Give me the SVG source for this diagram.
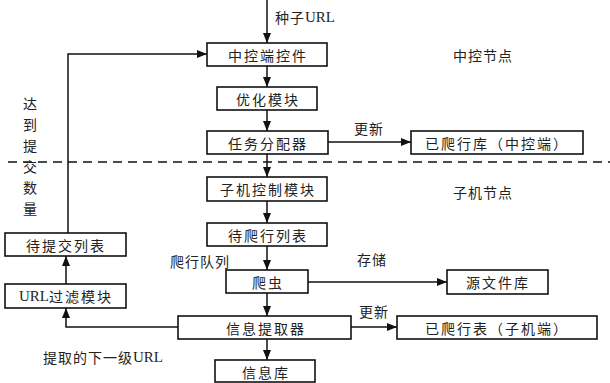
<svg xmlns="http://www.w3.org/2000/svg" width="610" height="383" viewBox="0 0 610 383" lang="zh-CN">
<style>
.box{fill:#fff;stroke:#111;stroke-width:1.6}
.t{font-family:"Noto Sans CJK SC","Liberation Serif",sans-serif;font-size:14px;fill:#222;text-anchor:middle;dominant-baseline:central;letter-spacing:2px}
.l{font-family:"Noto Sans CJK SC","Liberation Serif",sans-serif;font-size:14px;fill:#222;dominant-baseline:central;letter-spacing:1px}
.s{font-family:"Liberation Serif",serif;font-size:15px;letter-spacing:0}
.c{fill:none;stroke:#111;stroke-width:1.5}
</style>
<defs>
<marker id="ah" viewBox="0 0 10 8" refX="10" refY="4" markerWidth="10" markerHeight="8" markerUnits="userSpaceOnUse" orient="auto">
<path d="M0,0 L10,4 L0,8 Z" fill="#111"/>
</marker>
</defs>
<rect width="610" height="383" fill="#fff"/>
<line x1="8" y1="162" x2="610" y2="162" stroke="#111" stroke-width="1.5" stroke-dasharray="9,6"/>
<g id="connectors">
<line class="c" x1="267" y1="0" x2="267" y2="43" marker-end="url(#ah)"/>
<line class="c" x1="267" y1="66" x2="267" y2="87" marker-end="url(#ah)"/>
<line class="c" x1="267" y1="110" x2="267" y2="131" marker-end="url(#ah)"/>
<line class="c" x1="267" y1="154" x2="267" y2="177" marker-end="url(#ah)"/>
<line class="c" x1="267" y1="201" x2="267" y2="223" marker-end="url(#ah)"/>
<line class="c" x1="267" y1="246" x2="267" y2="270" marker-end="url(#ah)"/>
<line class="c" x1="267" y1="293" x2="267" y2="316" marker-end="url(#ah)"/>
<line class="c" x1="267" y1="339" x2="267" y2="360" marker-end="url(#ah)"/>
<line class="c" x1="328" y1="142" x2="411" y2="142" marker-end="url(#ah)"/>
<line class="c" x1="308" y1="282" x2="447" y2="282" marker-end="url(#ah)"/>
<line class="c" x1="351" y1="327" x2="397" y2="327" marker-end="url(#ah)"/>
<polyline class="c" points="178,327 66,327 66,308" marker-end="url(#ah)"/>
<line class="c" x1="66" y1="284" x2="66" y2="256" marker-end="url(#ah)"/>
<polyline class="c" points="68,233 68,54 207,54" marker-end="url(#ah)"/>
</g>
<g id="n1"><rect class="box" x="207" y="43" width="120" height="23"/><text class="t" x="268" y="55">中控端控件</text></g>
<g id="n2"><rect class="box" x="217" y="87" width="100" height="23"/><text class="t" x="268" y="99">优化模块</text></g>
<g id="n3"><rect class="box" x="207" y="131" width="121" height="23"/><text class="t" x="268" y="143">任务分配器</text></g>
<g id="n4"><rect class="box" x="411" y="131" width="172" height="23"/><text class="t" x="497" y="143">已爬行库（中控端）</text></g>
<g id="n5"><rect class="box" x="207" y="177" width="120" height="24"/><text class="t" x="268" y="189">子机控制模块</text></g>
<g id="n6"><rect class="box" x="207" y="223" width="120" height="23"/><text class="t" x="268" y="235">待爬行列表</text></g>
<g id="n7"><rect class="box" x="226" y="270" width="82" height="23"/><text class="t" x="268" y="282">爬虫</text></g>
<g id="n8"><rect class="box" x="447" y="270" width="101" height="24"/><text class="t" x="498" y="282">源文件库</text></g>
<g id="n9"><rect class="box" x="178" y="316" width="173" height="23"/><text class="t" x="266" y="328">信息提取器</text></g>
<g id="n10"><rect class="box" x="397" y="316" width="200" height="23"/><text class="t" x="497" y="328">已爬行表（子机端）</text></g>
<g id="n11"><rect class="box" x="215" y="360" width="100" height="22"/><text class="t" x="266" y="372">信息库</text></g>
<g id="n12"><rect class="box" x="5" y="284" width="121" height="24"/><text class="t" x="66" y="296"><tspan class="s">URL</tspan>过滤模块</text></g>
<g id="n13"><rect class="box" x="5" y="233" width="121" height="23"/><text class="t" x="66" y="245">待提交列表</text></g>
<g id="labels">
<text class="l" x="275" y="17">种子<tspan class="s">URL</tspan></text>
<text class="l" x="453" y="55">中控节点</text>
<text class="l" x="453" y="192">子机节点</text>
<text class="l" x="354" y="128">更新</text>
<text class="l" x="357" y="259">存储</text>
<text class="l" x="359" y="311">更新</text>
<text class="l" x="170" y="261">爬行队列</text>
<text class="l" x="43" y="357">提取的下一级<tspan class="s">URL</tspan></text>
<text class="t" x="31" y="103">达</text>
<text class="t" x="31" y="124">到</text>
<text class="t" x="31" y="145">提</text>
<text class="t" x="31" y="166">交</text>
<text class="t" x="31" y="187">数</text>
<text class="t" x="31" y="208">量</text>
</g>
</svg>
